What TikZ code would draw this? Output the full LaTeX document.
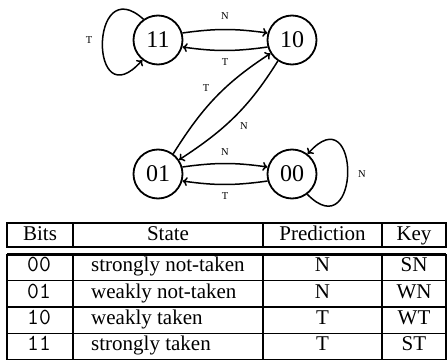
\documentclass[tikz,border=0pt]{standalone}
\usepackage{fontspec}
\setmainfont{Liberation Serif}
\usetikzlibrary{arrows.meta}
\begin{document}
\begin{tikzpicture}[x=1pt,y=1pt,
  state/.style={circle,draw,line width=1.8pt,minimum size=49pt,inner sep=0pt,font=\fontsize{24}{28}\selectfont},
  edge/.style={line width=1.5pt,-{To[length=5pt,width=9pt]}},
  elabel/.style={font=\fontsize{10.5}{12}\selectfont,inner sep=0pt},
  cell/.style={anchor=base,inner sep=0pt,font=\fontsize{21}{25}\selectfont},
  lcell/.style={cell,anchor=base west},
  mcell/.style={anchor=base,inner sep=0pt,font=\ttfamily\fontsize{23}{25}\selectfont},
  rule/.style={line width=1.3pt},
  heavyrule/.style={line width=2.6pt}
]
\useasboundingbox (0,0) rectangle (448,-362);

% states
\node[state] (n11) at (158,-40) {11};
\node[state] (n10) at (292,-40) {10};
\node[state] (n01) at (158,-174) {01};
\node[state] (n00) at (292,-174) {00};

% transitions
\draw[edge] (n11.16) to[out=8,in=172] (n10.164);
\draw[edge] (n10.196) to[out=188,in=-8] (n11.-16);
\draw[edge] (n01.16) to[out=8,in=172] (n00.164);
\draw[edge] (n00.196) to[out=188,in=-8] (n01.-16);
\draw[edge] (n01.53) to[out=58,in=213] (n10.212);
\draw[edge] (n10.236) to[out=238,in=33] (n01.34);
\draw[edge] (n11.125) .. controls (89,30) and (89,-120) .. (n11.232);
\draw[edge] (n00.-53) .. controls (361,-249) and (361,-94) .. (n00.52);

% labels
\node[elabel] (l1) at (225,-16) {N};
\node[elabel] (l2) at (225,-62) {T};
\node[elabel] (l3) at (206,-88) {T};
\node[elabel] (l4) at (244,-126) {N};
\node[elabel] (l5) at (225,-152) {N};
\node[elabel] (l6) at (225,-196) {T};
\node[elabel] (l7) at (89,-40) {T};
\node[elabel] (l8) at (362,-174) {N};

% table rules
\draw[rule] (7,-223) rectangle (446,-247);
\draw[heavyrule] (7,-247) -- (446,-247);
\foreach \cx in {73,263,382} \draw[rule] (\cx,-223) -- (\cx,-247);
\draw[rule] (7,-254.5) rectangle (446,-359.5);
\draw[heavyrule] (7,-254.5) -- (446,-254.5);
\foreach \ry in {-280.75,-307,-333.25} \draw[rule] (7,\ry) -- (446,\ry);
\foreach \cx in {73,263,382} \draw[rule] (\cx,-254.5) -- (\cx,-359.5);

% header
\node[cell] (hbits) at (40,-240.3) {Bits};
\node[cell] (hstate) at (168,-240.3) {State};
\node[cell] (hpred) at (322.5,-240.3) {Prediction};
\node[cell] (hkey) at (414,-240.3) {Key};

% rows
\node[mcell] (b1) at (39,-271.8) {00};
\node[lcell] (s1) at (91,-271.8) {strongly not-taken};
\node[cell] (p1) at (322.5,-271.8) {N};
\node[cell] (k1) at (414,-271.8) {SN};

\node[mcell] (b2) at (39,-298.05) {01};
\node[lcell] (s2) at (91,-298.05) {weakly not-taken};
\node[cell] (p2) at (322.5,-298.05) {N};
\node[cell] (k2) at (414,-298.05) {WN};

\node[mcell] (b3) at (39,-324.3) {10};
\node[lcell] (s3) at (91,-324.3) {weakly taken};
\node[cell] (p3) at (322.5,-324.3) {T};
\node[cell] (k3) at (414,-324.3) {WT};

\node[mcell] (b4) at (39,-350.55) {11};
\node[lcell] (s4) at (91,-350.55) {strongly taken};
\node[cell] (p4) at (322.5,-350.55) {T};
\node[cell] (k4) at (414,-350.55) {ST};
\end{tikzpicture}
\end{document}
